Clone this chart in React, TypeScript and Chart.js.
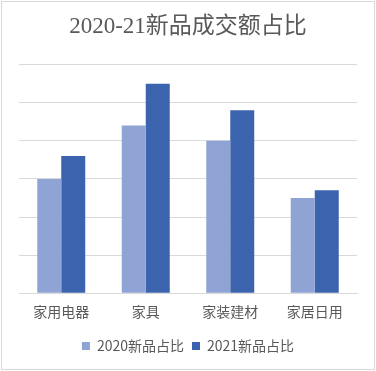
import React, { useEffect, useRef } from "react";
import { Chart, registerables } from "chart.js";

Chart.register(...registerables);

const categories = ["家用电器", "家具", "家装建材", "家居日用"];
const series2020 = [15, 22, 20, 12.5];
const series2021 = [18, 27.5, 24, 13.5];
const seriesNames = ["2020新品占比", "2021新品占比"];
const titleText = "2020-21新品成交额占比";

export default function App() {
  const ref = useRef<HTMLCanvasElement | null>(null);
  useEffect(() => {
    document.body.style.margin = "0";
    if (!ref.current) return;
    const chart = new Chart(ref.current, {
      type: "bar",
      data: {
        labels: categories,
        datasets: [
          {
            label: seriesNames[0],
            data: series2020,
            backgroundColor: "#8FA3D4",
            barPercentage: 1,
            categoryPercentage: 0.568,
          },
          {
            label: seriesNames[1],
            data: series2021,
            backgroundColor: "#3C64AE",
            barPercentage: 1,
            categoryPercentage: 0.568,
          },
        ],
      },
      options: {
        responsive: false,
        animation: false,
        layout: { padding: { left: 19, right: 19, top: 0, bottom: 8 } },
        plugins: {
          title: {
            display: true,
            text: titleText,
            color: "#595959",
            font: {
              family: "'Liberation Serif', 'Noto Sans CJK SC'",
              size: 23,
              weight: "normal",
              lineHeight: 1.2,
            },
            padding: { top: 13, bottom: 24 },
          },
          legend: {
            position: "bottom",
            labels: {
              boxWidth: 8,
              boxHeight: 8,
              padding: 8,
              color: "#595959",
              font: { family: "'Noto Sans CJK SC', 'Liberation Sans'", size: 14 },
            },
          },
          tooltip: { enabled: false },
        },
        scales: {
          x: {
            grid: { display: false, drawTicks: false },
            border: { display: true, color: "#D9D9D9", width: 1 },
            ticks: {
              color: "#595959",
              padding: 10,
              font: { family: "'Noto Sans CJK SC', 'Liberation Sans'", size: 14 },
            },
            afterFit: (scale: any) => {
              scale.height += 1;
            },
          },
          y: {
            min: 0,
            max: 30,
            ticks: { display: false, stepSize: 5 },
            grid: { color: "#D9D9D9", drawTicks: false },
            border: { display: false },
          },
        },
      },
    });
    return () => chart.destroy();
  }, []);
  return (
    <div style={{ position: "relative", width: 376, height: 371, background: "#fff" }}>
      <canvas ref={ref} width={376} height={371} style={{ display: "block" }} />
      <div
        style={{
          position: "absolute",
          left: 1,
          top: 1,
          width: 374,
          height: 369,
          border: "1px solid #D9D9D9",
          boxSizing: "border-box",
          pointerEvents: "none",
        }}
      />
    </div>
  );
}
